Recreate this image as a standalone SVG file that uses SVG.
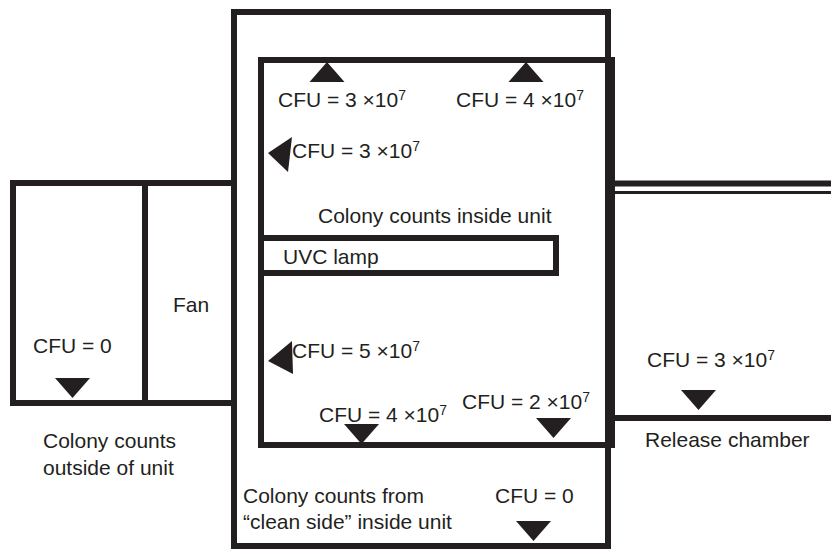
<svg xmlns="http://www.w3.org/2000/svg" xmlns:xlink="http://www.w3.org/1999/xlink" width="831" height="551" viewBox="0 0 831 551">
  <style>
    .wall { fill: none; stroke: #231f20; stroke-width: 6; }
    .thin { fill: none; stroke: #231f20; stroke-width: 3; }
    .lbl { font-family: "Liberation Sans", Arial, sans-serif; font-size: 21px; fill: #231f20; }
    .sup { font-size: 14px; }
    .mark { fill: #231f20; }
  </style>
  <defs>
    <path id="triDown" d="M-17.5,0 L17.5,0 L0,20 Z"/>
  </defs>
  <rect width="831" height="551" fill="#ffffff"/>

  <g id="outside-unit">
    <rect class="wall" x="13" y="183" width="221" height="220"/>
    <text class="lbl" x="33" y="353">CFU = 0</text>
    <use xlink:href="#triDown" class="mark" transform="translate(72.5,378)"/>
    <text class="lbl" x="43" y="448">Colony counts</text>
    <text class="lbl" x="43" y="475">outside of unit</text>
  </g>

  <g id="fan">
    <line class="wall" x1="145" y1="183" x2="145" y2="403"/>
    <text class="lbl" x="173" y="312">Fan</text>
  </g>

  <g id="unit-outer">
    <rect class="wall" x="234" y="12" width="374" height="534"/>
    <text class="lbl" x="243" y="503">Colony counts from</text>
    <text class="lbl" x="243" y="529">“clean side” inside unit</text>
    <text class="lbl" x="495" y="503">CFU = 0</text>
    <use xlink:href="#triDown" class="mark" transform="translate(533.5,521)"/>
  </g>

  <g id="unit-inner">
    <rect class="wall" x="261" y="60" width="351" height="385" stroke-width="7"/>
    <use xlink:href="#triDown" class="mark" transform="translate(327,82) rotate(180)"/>
    <use xlink:href="#triDown" class="mark" transform="translate(526,82) rotate(180)"/>
    <text class="lbl" x="278" y="107">CFU = 3 ×10<tspan class="sup" dy="-7">7</tspan></text>
    <text class="lbl" x="456" y="107">CFU = 4 ×10<tspan class="sup" dy="-7">7</tspan></text>
    <polygon class="mark" points="292,137 268,153 288,172"/>
    <text class="lbl" x="292" y="158">CFU = 3 ×10<tspan class="sup" dy="-7">7</tspan></text>
    <text class="lbl" x="318" y="223">Colony counts inside unit</text>
    <polygon class="mark" points="292,341 268,361 293,374"/>
    <text class="lbl" x="292" y="358">CFU = 5 ×10<tspan class="sup" dy="-7">7</tspan></text>
    <text class="lbl" x="319" y="422">CFU = 4 ×10<tspan class="sup" dy="-7">7</tspan></text>
    <use xlink:href="#triDown" class="mark" transform="translate(361.5,424)"/>
    <text class="lbl" x="462" y="409">CFU = 2 ×10<tspan class="sup" dy="-7">7</tspan></text>
    <use xlink:href="#triDown" class="mark" transform="translate(553.5,418)"/>
  </g>

  <g id="uvc-lamp">
    <rect class="wall" x="261" y="238" width="295" height="35"/>
    <text class="lbl" x="283" y="264">UVC lamp</text>
  </g>

  <g id="release-chamber">
    <line class="wall" x1="612" y1="183.5" x2="831" y2="183.5"/>
    <line class="thin" x1="612" y1="192.5" x2="831" y2="192.5"/>
    <line class="wall" x1="612" y1="418" x2="831" y2="418"/>
    <text class="lbl" x="647" y="367">CFU = 3 ×10<tspan class="sup" dy="-7">7</tspan></text>
    <use xlink:href="#triDown" class="mark" transform="translate(698.5,390)"/>
    <text class="lbl" x="645" y="447">Release chamber</text>
  </g>

  <g id="connectors"></g>
</svg>
